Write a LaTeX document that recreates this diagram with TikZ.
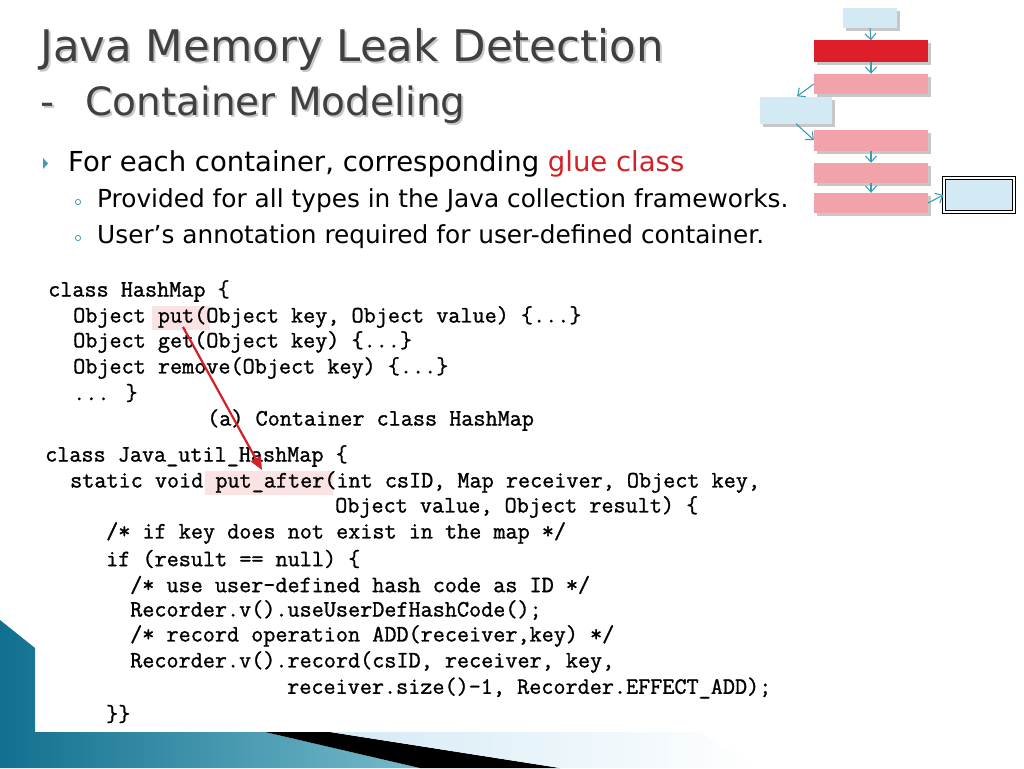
\documentclass[tikz,border=0pt]{standalone}
\usepackage{fontspec}
\setmainfont{DejaVu Sans}
\newfontfamily\codefont{Latin Modern Mono}[FakeBold=1.2]
\usetikzlibrary{arrows.meta}
\definecolor{titlegray}{HTML}{404040}
\definecolor{gluered}{HTML}{D42027}
\definecolor{lblue}{HTML}{D3EAF5}
\definecolor{pinkb}{HTML}{F2A3AA}
\definecolor{redb}{HTML}{DE1F2A}
\definecolor{teal}{HTML}{3A9DB5}
\definecolor{deepteal}{HTML}{11708F}
\definecolor{hl}{HTML}{FBE3E4}
\begin{document}
\begin{tikzpicture}[x=1pt,y=-1pt,
  code/.style={anchor=west,inner sep=0pt,font=\codefont\fontsize{23.5}{25}\selectfont\bfseries},
  conn/.style={teal,line width=1.1pt,-{Straight Barb[length=6pt,width=11pt]}}]
\useasboundingbox (0,0) rectangle (1024,768);
% bottom-left decoration
\shade[left color=deepteal,right color=teal!70] (0,620) -- (35,648) -- (35,732) -- (265,732) -- (420,768) -- (0,768) -- cycle;
\fill[black] (265,732) -- (330,732) -- (560,768) -- (420,768) -- cycle;
\shade[left color=lblue,right color=white] (330,732) -- (700,732) -- (760,768) -- (560,768) -- cycle;
% title
\node[anchor=west,inner sep=0pt,text=black!22] (ts) at (42,51) {\fontsize{43.5}{48}\selectfont Java Memory Leak Detection};
\node[anchor=west,inner sep=0pt,text=titlegray] (t1) at (40,49) {\fontsize{43.5}{48}\selectfont Java Memory Leak Detection};
\node[anchor=west,inner sep=0pt,text=black!22] (t2s) at (42,107) {\fontsize{39}{44}\selectfont -\hspace{31pt}Container Modeling};
\node[anchor=west,inner sep=0pt,text=titlegray] (t2) at (40,105) {\fontsize{39}{44}\selectfont -\hspace{31pt}Container Modeling};
% bullets
\fill[teal] (43,158) -- (48,163.5) -- (43,169) -- cycle;
\node[anchor=west,inner sep=0pt] (b1) at (68,164) {\fontsize{27.5}{30}\selectfont For each container, corresponding \textcolor{gluered}{glue class}};
\draw[teal,line width=0.8pt] (78,202) circle (2.6pt);
\node[anchor=west,inner sep=0pt] (b2) at (97,201) {\fontsize{24.8}{28}\selectfont Provided for all types in the Java collection frameworks.};
\draw[teal,line width=0.8pt] (78,238) circle (2.6pt);
\node[anchor=west,inner sep=0pt] (b3) at (97,237) {\fontsize{24.8}{28}\selectfont User's annotation required for user-defined container.};
% highlights
\fill[hl] (152,306) rectangle (210,330);
\fill[hl] (205,471) rectangle (333,495);
% code
\node[code] (c1) at (48,291) {class HashMap \{};
\node[code] (c2) at (73,317) {Object put(Object key, Object value) \{...\}};
\node[code] (c3) at (73,342) {Object get(Object key) \{...\}};
\node[code] (c4) at (73,368) {Object remove(Object key) \{...\}};
\node[code] (c5) at (73,393) {... \}};
\node[code] (c6) at (207,420) {(a) Container class HashMap};
\node[code] (c7) at (45,456) {class Java\_util\_HashMap \{};
\node[code] (c8) at (70,482) {static void put\_after(int csID, Map receiver, Object key,};
\node[code] (c9) at (335,507) {Object value, Object result) \{};
\node[code] (c10) at (106,533) {/* if key does not exist in the map */};
\node[code] (c11) at (106,559) {if (result == null) \{};
\node[code] (c12) at (130,585) {/* use user-defined hash code as ID */};
\node[code] (c13) at (130,610) {Recorder.v().useUserDefHashCode();};
\node[code] (c14) at (130,636) {/* record operation ADD(receiver,key) */};
\node[code] (c15) at (130,662) {Recorder.v().record(csID, receiver, key,};
\node[code] (c16) at (287,688) {receiver.size()-1, Recorder.EFFECT\_ADD);};
\node[code] (c17) at (106,714) {\}\}};
\coordinate (pa) at (183,327);
\coordinate (pb) at (262,470);
\draw[gluered,line width=2.2pt,-{Triangle[length=13pt,width=11pt]}] (pa) -- (pb);
% top-right diagram
\begin{scope}[every node/.style={inner sep=0pt}]
\foreach \n/\x/\y/\w/\h/\c in {n1/870/18/54/20/lblue,n2/871/51/114/21/redb,n3/871/84/114/20/pinkb,n4/796/110/72/27/lblue,n5/871/140/114/21/pinkb,n6/871/173/114/20/pinkb,n7/871/203/114/20/pinkb}{
  \fill[black!22] (\x-\w/2+3,\y-\h/2+3) rectangle (\x+\w/2+3,\y+\h/2+3);
  \node[fill=\c,minimum width=\w pt,minimum height=\h pt] (\n) at (\x,\y) {};
}
\node[fill=lblue,draw=black,double=white,double distance=1.2pt,line width=1.5pt,minimum width=70pt,minimum height=34pt] (n8) at (979,195) {};
\end{scope}
\draw[conn] (n1.south) -- (n2.north);
\draw[conn] (n2.south) -- (n3.north);
\draw[conn] (n3.west) -- ([xshift=1pt]n4.north);
\draw[conn] (n4.south) -- (n5.west);
\draw[conn] (n5.south) -- (n6.north);
\draw[conn] (n6.south) -- (n7.north);
\draw[conn] (n7.east) -- (n8.west);
\end{tikzpicture}
\end{document}
